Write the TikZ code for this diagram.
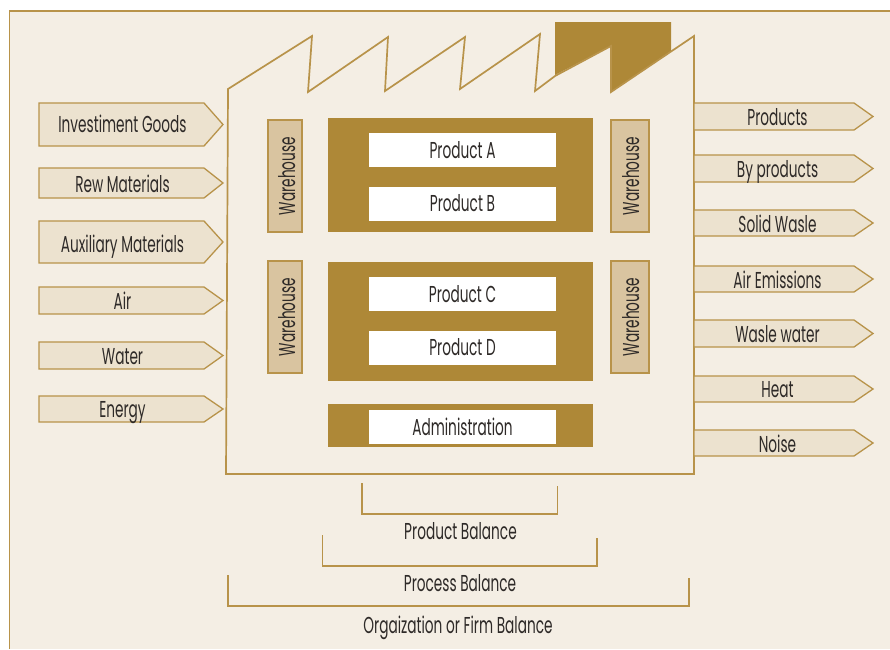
\documentclass[tikz,border=0pt]{standalone}
\usepackage{fontspec}
\setmainfont[FakeStretch=0.595]{Poppins}
\definecolor{panel}{HTML}{F4EEE4}
\definecolor{gold}{HTML}{AE8837}
\definecolor{linegold}{HTML}{B8934A}
\definecolor{arrowfill}{HTML}{ECE2CF}
\definecolor{wfill}{HTML}{D9C4A0}
\definecolor{ink}{HTML}{2E2A28}
\tikzset{x=1pt,y=-1pt,
 every node/.style={text=ink,font=\fontsize{23}{26}\selectfont,inner sep=0pt},
 arrowbox/.style={draw=linegold,fill=arrowfill,line width=1.3pt,line join=miter},
 lbl/.style={anchor=base},
 wbox/.style={draw=linegold,fill=wfill,line width=1.1pt,minimum width=112pt,rotate=90,anchor=center},
 prodbox/.style={fill=white,minimum width=187pt,text height=25pt,text depth=9pt,anchor=center},
 bracket/.style={draw=linegold,line width=1.1pt},
 outline/.style={draw=linegold,line width=1.7pt,line join=miter}}
\newcommand{\arrowshape}[6]{%
 \path[arrowbox] (#1,#3) -- (#2-19,#3) -- (#2,#3/2+#4/2) -- (#2-19,#4) -- (#1,#4) -- cycle;
 \coordinate (#5) at (#6);}
\begin{document}
\begin{tikzpicture}
\useasboundingbox (0,0) rectangle (890,649);
\fill[white] (0,0) rectangle (890,649);
\fill[panel] (9.5,11) rectangle (890,649);
\draw[linegold,line width=1.1pt] (890,11) -- (9.5,11) -- (9.5,649);
% chimney block
\fill[gold] (555,22) -- (671,22) -- (671,51) -- (611,92) -- (611,46) -- (555,75) -- cycle;
% factory
\path[outline] (228,89) -- (312,36) -- (308,92) -- (388,37) -- (385,91) -- (465,37) -- (460,89) -- (540,34) -- (535,91) -- (555,76) -- (611,46) -- (611,92) -- (694,36) -- (694,474) -- (226,474) -- cycle;
% production blocks
\fill[gold] (328,118) rectangle (593,232);
\fill[gold] (328,262) rectangle (593,381);
\fill[gold] (328,404) rectangle (593,447);
\node[prodbox] (pa) at (462.5,150) {Product A};
\node[prodbox] (pb) at (462.5,203.5) {Product B};
\node[prodbox] (pc) at (462.5,294) {Product C};
\node[prodbox] (pd) at (462.5,347.5) {Product D};
\node[prodbox] (adm) at (462.5,427) {Administration};
\node[wbox,text height=27pt,text depth=7pt] (w1) at (285,176) {Warehouse};
\node[wbox,text height=27pt,text depth=7pt] (w2) at (285,317) {Warehouse};
\node[wbox,text height=28pt,text depth=10pt] (w3) at (630,176) {Warehouse};
\node[wbox,text height=28pt,text depth=10pt] (w4) at (630,317) {Warehouse};
% inputs
\arrowshape{39}{223}{103}{146}{i1}{122.5,132}\node[lbl] at (i1) {Investiment Goods};
\arrowshape{39}{223}{168}{198}{i2}{122.5,192}\node[lbl] at (i2) {Rew Materials};
\arrowshape{39}{223}{221}{263}{i3}{122.5,252}\node[lbl] at (i3) {Auxiliary Materials};
\arrowshape{39}{223}{287}{314}{i4}{122.5,309}\node[lbl] at (i4) {Air};
\arrowshape{39}{223}{342}{369}{i5}{122.5,364}\node[lbl] at (i5) {Water};
\arrowshape{39}{223}{396}{422}{i6}{122.5,417}\node[lbl] at (i6) {Energy};
% outputs
\arrowshape{694}{873}{103}{130}{o1}{777.5,125}\node[lbl] at (o1) {Products};
\arrowshape{694}{873}{155}{182}{o2}{777.5,177}\node[lbl] at (o2) {By products};
\arrowshape{694}{873}{210}{236}{o3}{777.5,232}\node[lbl] at (o3) {Solid Wasle};
\arrowshape{694}{873}{266}{292}{o4}{777.5,288}\node[lbl] at (o4) {Air Emissions};
\arrowshape{694}{873}{320}{347}{o5}{777.5,342}\node[lbl] at (o5) {Wasle water};
\arrowshape{694}{873}{376}{402}{o6}{777.5,397}\node[lbl] at (o6) {Heat};
\arrowshape{694}{873}{430}{456}{o7}{777.5,452}\node[lbl] at (o7) {Noise};
% brackets
\path[bracket] (362,483) -- (362,514) -- (557.5,514) -- (557.5,486);
\node[lbl] (b1) at (460.5,539) {Product Balance};
\path[bracket] (322.5,535) -- (322.5,566) -- (597,566) -- (597,538);
\node[lbl] (b2) at (460,591) {Process Balance};
\path[bracket] (228,575) -- (228,606) -- (689,606) -- (689,578);
\node[lbl] (b3) at (458,633) {Orgaization or Firm Balance};
\end{tikzpicture}
\end{document}
